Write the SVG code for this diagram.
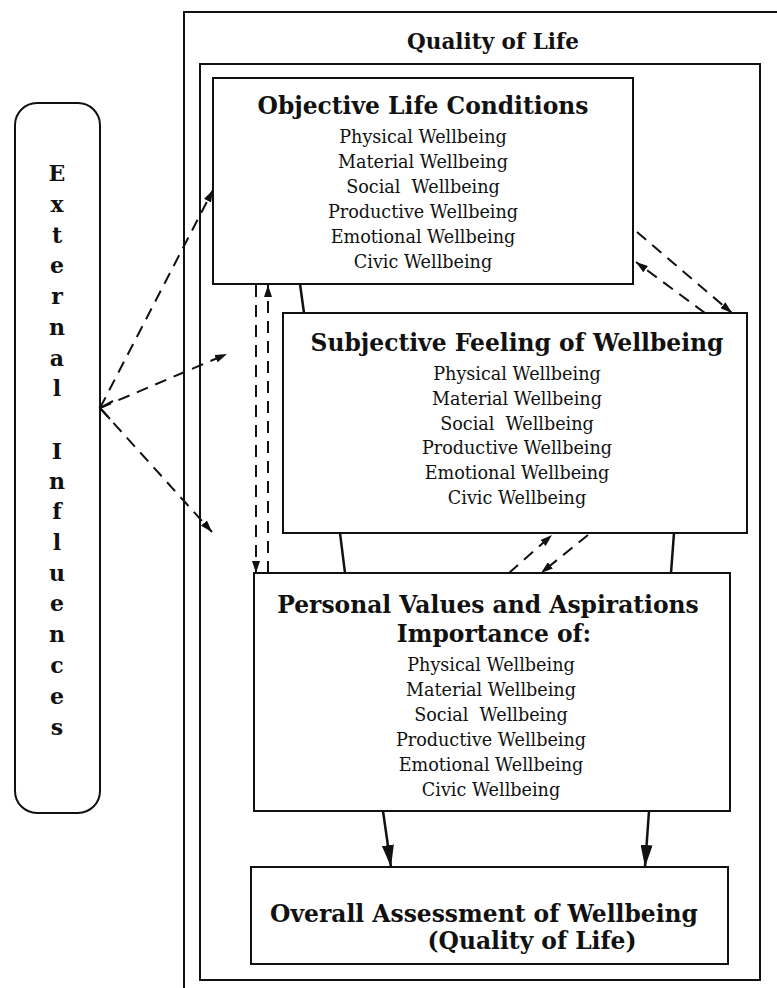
<svg xmlns="http://www.w3.org/2000/svg" width="777" height="988" viewBox="0 0 777 988">
<style>
.box{fill:#fff;stroke:#111;stroke-width:2}
.frame{fill:none;stroke:#111;stroke-width:2}
.title{font-family:"DejaVu Serif","Liberation Serif",serif;font-weight:bold;font-size:23.4px;fill:#111;text-anchor:middle}
.item{font-family:"DejaVu Serif","Liberation Serif",serif;font-size:17.6px;fill:#111;text-anchor:middle}
.sp{white-space:pre}
.ext{font-family:"DejaVu Serif","Liberation Serif",serif;font-weight:bold;font-size:22px;fill:#111;text-anchor:middle}
.dash{fill:none;stroke:#111;stroke-width:2;stroke-dasharray:12 8}
.solid{fill:none;stroke:#111;stroke-width:2.5}
</style>
<defs>
<marker id="ah" viewBox="0 0 12 8" refX="12" refY="4" markerWidth="12" markerHeight="8" markerUnits="userSpaceOnUse" orient="auto"><path d="M0,0 L12,4 L0,8 z" fill="#111"/></marker>
<marker id="bh" viewBox="0 0 22 12" refX="22" refY="6" markerWidth="22" markerHeight="12" markerUnits="userSpaceOnUse" orient="auto"><path d="M0,0 L22,6 L0,12 z" fill="#111"/></marker>
</defs>
<rect width="777" height="988" fill="#fff"/>
<g id="frame-outer"><path class="frame" d="M184,990 L184,12 L779,12"/><text class="title" x="493" y="49" style="font-size:21.5px">Quality of Life</text></g>
<g id="frame-inner"><rect class="frame" x="200" y="64" width="560" height="916"/></g>
<g id="external"><rect class="box" x="15" y="103" width="85" height="710" rx="22"/>
<text class="ext" x="57" y="181">E</text><text class="ext" x="57" y="212">x</text><text class="ext" x="57" y="243">t</text><text class="ext" x="57" y="273">e</text><text class="ext" x="57" y="304">r</text><text class="ext" x="57" y="335">n</text><text class="ext" x="57" y="366">a</text><text class="ext" x="57" y="396">l</text>
<text class="ext" x="57" y="459">I</text><text class="ext" x="57" y="489">n</text><text class="ext" x="57" y="519">f</text><text class="ext" x="57" y="550">l</text><text class="ext" x="57" y="581">u</text><text class="ext" x="57" y="611">e</text><text class="ext" x="57" y="642">n</text><text class="ext" x="57" y="673">c</text><text class="ext" x="57" y="704">e</text><text class="ext" x="57" y="735">s</text></g>
<g id="objective"><rect class="box" x="213" y="78" width="420" height="206"/>
<text class="title" x="423" y="114">Objective Life Conditions</text>
<text class="item" x="423" y="143">Physical Wellbeing</text><text class="item" x="423" y="168">Material Wellbeing</text><text class="item sp" x="423" y="193">Social  Wellbeing</text><text class="item" x="423" y="218">Productive Wellbeing</text><text class="item" x="423" y="243">Emotional Wellbeing</text><text class="item" x="423" y="268">Civic Wellbeing</text></g>
<g id="subjective"><rect class="box" x="283" y="313" width="464" height="220"/>
<text class="title" x="517" y="351">Subjective Feeling of Wellbeing</text>
<text class="item" x="517" y="380">Physical Wellbeing</text><text class="item" x="517" y="405">Material Wellbeing</text><text class="item sp" x="517" y="430">Social  Wellbeing</text><text class="item" x="517" y="454">Productive Wellbeing</text><text class="item" x="517" y="479">Emotional Wellbeing</text><text class="item" x="517" y="504">Civic Wellbeing</text></g>
<g id="personal"><rect class="box" x="254" y="573" width="476" height="238"/>
<text class="title" x="488" y="613">Personal Values and Aspirations</text>
<text class="title" x="494" y="642">Importance of:</text>
<text class="item" x="491" y="671">Physical Wellbeing</text><text class="item" x="491" y="696">Material Wellbeing</text><text class="item sp" x="491" y="721">Social  Wellbeing</text><text class="item" x="491" y="746">Productive Wellbeing</text><text class="item" x="491" y="771">Emotional Wellbeing</text><text class="item" x="491" y="796">Civic Wellbeing</text></g>
<g id="overall"><rect class="box" x="251" y="867" width="477" height="97"/>
<text class="title" x="484" y="922">Overall Assessment of Wellbeing</text>
<text class="title" x="532" y="949">(Quality of Life)</text></g>
<g id="connectors">
<path class="dash" d="M100,408 L213,190" marker-end="url(#ah)"/>
<path class="dash" d="M100,408 L227,354" marker-end="url(#ah)"/>
<path class="dash" d="M100,408 L212,532" marker-end="url(#ah)"/>
<polyline fill="none" stroke="#111" stroke-width="2" points="113,401 100,408 110,419"/>
<path class="dash" d="M256,285 L256,573" marker-end="url(#ah)"/>
<path class="dash" d="M268,573 L268,285" marker-end="url(#ah)"/>
<path class="dash" d="M637,232 L732,313" marker-end="url(#ah)"/>
<path class="dash" d="M705,313 L636,262" marker-end="url(#ah)"/>
<path class="dash" d="M509,573 L552,535" marker-end="url(#ah)"/>
<path class="dash" d="M588,535 L541,573" marker-end="url(#ah)"/>
<path class="solid" d="M300,284 L304,313"/>
<path class="solid" d="M340,533 L345,573"/>
<path class="solid" d="M674,533 L671,573"/>
<path class="solid" d="M383,811 L391,867" marker-end="url(#bh)"/>
<path class="solid" d="M649,811 L645,867" marker-end="url(#bh)"/>
</g>
</svg>
